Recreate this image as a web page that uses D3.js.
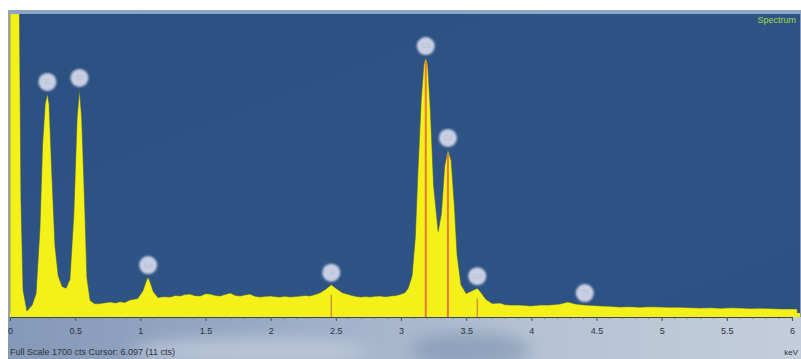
<!DOCTYPE html>
<html>
<head>
<meta charset="utf-8">
<script src="https://cdnjs.cloudflare.com/ajax/libs/d3/7.8.5/d3.min.js"></script>
<style>
  html, body { margin: 0; padding: 0; background: #ffffff; }
  svg { display: block; font-family: "Liberation Sans", Arial, sans-serif; }
</style>
</head>
<body>
<svg id="chart" width="801" height="359"></svg>
<script>
// EDS spectrum: energy (keV) vs counts
const energy = [0.000, 0.070, 0.084, 0.100, 0.130, 0.170, 0.200, 0.230, 0.250, 0.270, 0.287, 0.300, 0.320, 0.345,
  0.370, 0.400, 0.430, 0.460, 0.490, 0.515, 0.533, 0.550, 0.575, 0.590, 0.615, 0.650, 0.690, 0.730, 0.770, 0.810,
  0.845, 0.880, 0.920, 0.980, 1.020, 1.045, 1.060, 1.075, 1.100, 1.135, 1.180, 1.230, 1.270, 1.305, 1.340, 1.380,
  1.420, 1.460, 1.500, 1.535, 1.570, 1.610, 1.650, 1.690, 1.730, 1.765, 1.800, 1.840, 1.880, 1.920, 1.960, 2.000,
  2.040, 2.070, 2.110, 2.150, 2.190, 2.230, 2.270, 2.300, 2.340, 2.380, 2.425, 2.465, 2.500, 2.550, 2.610, 2.650,
  2.690, 2.730, 2.760, 2.800, 2.840, 2.880, 2.920, 2.960, 2.990, 3.030, 3.055, 3.085, 3.110, 3.130, 3.155, 3.175,
  3.190, 3.205, 3.225, 3.250, 3.285, 3.310, 3.335, 3.360, 3.385, 3.410, 3.430, 3.460, 3.500, 3.545, 3.585, 3.615,
  3.650, 3.700, 3.760, 3.800, 3.840, 3.910, 3.960, 3.990, 4.070, 4.140, 4.180, 4.220, 4.280, 4.340, 4.410, 4.470,
  4.530, 4.600, 4.680, 4.750, 4.830, 4.910, 4.990, 5.060, 5.140, 5.220, 5.300, 5.380, 5.450, 5.530, 5.600, 5.680,
  5.760, 5.830, 5.910, 6.040];
const counts = [1900, 1900, 640, 130, 11, 45, 110, 480, 950, 1180, 1237, 1180, 800, 380,
  210, 150, 140, 190, 560, 1100, 1260, 1100, 560, 200, 70, 52, 53, 58, 62, 57,
  64, 60, 73, 82, 125, 180, 203, 175, 120, 88, 92, 90, 99, 96, 104, 107,
  98, 96, 109, 107, 100, 96, 105, 113, 99, 96, 102, 107, 95, 90, 94, 96,
  92, 90, 95, 90, 93, 96, 99, 96, 104, 115, 135, 160, 140, 115, 102, 94,
  90, 93, 90, 95, 96, 92, 96, 99, 104, 115, 140, 210, 430, 800, 1200, 1400,
  1440, 1400, 1150, 720, 460, 560, 830, 921, 860, 600, 330, 160, 110, 125, 140, 115,
  78, 54, 56, 47, 45, 45, 42, 40, 45, 45, 48, 51, 62, 51, 45, 43,
  40, 38, 34, 36, 33, 35, 34, 32, 33, 30, 28, 30, 27, 29, 28, 26,
  27, 25, 23, 23];

// Element marker positions (keV) and their symbols
const markerEnergy = [0.287, 0.533, 1.060, 2.465, 3.190, 3.360, 3.585, 4.410];
const markerLabel = ["C", "O", "Na", "S", "Cd", "Cd", "Cd", "Ti"];
// Lines drawn up to the peak, and short KLM ticks
const lineEnergy = [3.190, 3.360];
const klmEnergy = [2.465, 3.585];

const tickValues = [0, 0.5, 1, 1.5, 2, 2.5, 3, 3.5, 4, 4.5, 5, 5.5, 6];
const tickLabels = ["0", "0.5", "1", "1.5", "2", "2.5", "3", "3.5", "4", "4.5", "5", "5.5", "6"];

const fullScale = 1700;
const footerText = "Full Scale 1700 cts Cursor: 6.097  (11 cts)";
const unitText = "keV";
const titleText = "Spectrum";

const svg = d3.select("#chart");
const W = 801, H = 359;
const plot = { left: 10, right: 800, top: 14, bottom: 317 };

const x = d3.scaleLinear().domain([0, 6]).range([10, 792]);
const y = d3.scaleLinear().domain([0, fullScale]).range([313, 12]);

const defs = svg.append("defs");
defs.append("clipPath").attr("id", "plotClip")
  .append("rect").attr("x", plot.left).attr("y", plot.top)
  .attr("width", plot.right - plot.left).attr("height", plot.bottom - plot.top);

const bg = defs.append("linearGradient").attr("id", "bgGrad").attr("x1", 0).attr("y1", 0).attr("x2", 1).attr("y2", 1);
bg.append("stop").attr("offset", "0%").attr("stop-color", "#2b5081");
bg.append("stop").attr("offset", "50%").attr("stop-color", "#2d5485");
bg.append("stop").attr("offset", "100%").attr("stop-color", "#2b5282");

const axisGrad = defs.append("linearGradient").attr("id", "axisGrad").attr("x1", 0).attr("y1", 0).attr("x2", 1).attr("y2", 0);
axisGrad.append("stop").attr("offset", "0%").attr("stop-color", "#8599b8");
axisGrad.append("stop").attr("offset", "30%").attr("stop-color", "#96a8c3");
axisGrad.append("stop").attr("offset", "60%").attr("stop-color", "#b3c0d3");
axisGrad.append("stop").attr("offset", "100%").attr("stop-color", "#c3cddc");

const blur = defs.append("filter").attr("id", "soft").attr("x", "-50%").attr("y", "-50%").attr("width", "200%").attr("height", "200%");
blur.append("feGaussianBlur").attr("stdDeviation", 1.2);
const swirlBlur = defs.append("filter").attr("id", "swirl").attr("x", "-50%").attr("y", "-50%").attr("width", "200%").attr("height", "200%");
swirlBlur.append("feGaussianBlur").attr("stdDeviation", 8);

// frame
svg.append("rect").attr("x", 8).attr("y", 10).attr("width", W - 8).attr("height", H - 10).attr("fill", "#8a9cb5");

// axis band
svg.append("rect").attr("x", 8).attr("y", plot.bottom).attr("width", W - 8).attr("height", H - plot.bottom).attr("fill", "url(#axisGrad)");
svg.append("ellipse").attr("cx", 250).attr("cy", 352).attr("rx", 120).attr("ry", 14)
  .attr("fill", "#c8d2e0").attr("opacity", 0.7).attr("filter", "url(#swirl)");
svg.append("ellipse").attr("cx", 470).attr("cy", 350).attr("rx", 60).attr("ry", 18)
  .attr("fill", "#6f86a8").attr("opacity", 0.5).attr("filter", "url(#swirl)");

// plot background
svg.append("rect").attr("x", plot.left).attr("y", plot.top)
  .attr("width", plot.right - plot.left).attr("height", plot.bottom - plot.top).attr("fill", "url(#bgGrad)");
// top light strip
svg.append("rect").attr("x", 8).attr("y", 10).attr("width", W - 8).attr("height", 4).attr("fill", "#8da6c6");
// left border
svg.append("rect").attr("x", 8).attr("y", 10).attr("width", 2.5).attr("height", plot.bottom - 10).attr("fill", "#9aa4a8");

const g = svg.append("g").attr("clip-path", "url(#plotClip)");

const data = energy.map((e, i) => ({ e, c: counts[i] }));

const area = d3.area()
  .x(d => x(d.e))
  .y0(plot.bottom)
  .y1(d => y(d.c))
  .curve(d3.curveLinear);

g.append("path").datum(data)
  .attr("d", area)
  .attr("fill", "#f4f01a")
  .attr("stroke", "#4a5a40")
  .attr("stroke-width", 0.8)
  .attr("stroke-opacity", 0.7)
  .attr("stroke-linejoin", "round");

// yellow bottom strip above axis
g.append("rect").attr("x", plot.left).attr("y", 313).attr("width", plot.right - plot.left).attr("height", 4).attr("fill", "#f4f01a");

// highest count within a small window around an energy
function countAt(e) {
  let best = 0;
  data.forEach(d => { if (Math.abs(d.e - e) < 0.012) best = Math.max(best, d.c); });
  if (best === 0) {
    const i = d3.bisector(d => d.e).left(data, e);
    best = data[Math.min(i, data.length - 1)].c;
  }
  return best;
}

// element lines
g.selectAll("line.el").data(lineEnergy).join("line")
  .attr("class", "el")
  .attr("x1", d => x(d)).attr("x2", d => x(d))
  .attr("y1", plot.bottom).attr("y2", d => y(countAt(d)) + 4)
  .attr("stroke", "#e77a3c").attr("stroke-width", 2);

g.selectAll("line.klm").data(klmEnergy).join("line")
  .attr("class", "klm")
  .attr("x1", d => x(d)).attr("x2", d => x(d))
  .attr("y1", plot.bottom).attr("y2", d => y(countAt(d)) + 10)
  .attr("stroke", "#c9853c").attr("stroke-width", 1.2);

// element markers
const mk = svg.append("g").selectAll("g").data(markerEnergy).join("g")
  .attr("transform", d => `translate(${x(d)},${y(countAt(d)) - 12})`);
mk.append("circle").attr("r", 9).attr("fill", "#c9cfe3").attr("filter", "url(#soft)");
mk.append("text").text((d, i) => markerLabel[i])
  .attr("text-anchor", "middle").attr("dy", "0.35em")
  .attr("font-size", 7).attr("fill", "#b8bfd3");

// axis
const axis = d3.axisBottom(x).tickValues(tickValues).tickFormat((d, i) => tickLabels[i]).tickSize(4);
const ax = svg.append("g").attr("transform", `translate(0,${plot.bottom})`).call(axis);
ax.select(".domain").attr("stroke", "#3b4658").attr("stroke-width", 1);
ax.selectAll(".tick line").attr("stroke", "#4a5566");
ax.selectAll(".tick text").attr("fill", "#2e3440").attr("font-size", 9).attr("dy", "1.1em");

const minor = d3.range(0, 60.5, 1).map(v => v / 10);
svg.append("g").selectAll("line").data(minor).join("line")
  .attr("x1", d => x(d)).attr("x2", d => x(d))
  .attr("y1", plot.bottom).attr("y2", plot.bottom + 2)
  .attr("stroke", "#5a6578").attr("stroke-width", 0.8);

// footer
svg.append("text").attr("x", 10).attr("y", 355).attr("font-size", 9).attr("fill", "#2e3440").text(footerText);
svg.append("text").attr("x", 798).attr("y", 355).attr("text-anchor", "end").attr("font-size", 8).attr("fill", "#2e3440").text(unitText);

// title
svg.append("text").attr("x", 796).attr("y", 23).attr("text-anchor", "end").attr("font-size", 9)
  .attr("fill", "#a5d64a").text(titleText);
</script>
</body>
</html>
